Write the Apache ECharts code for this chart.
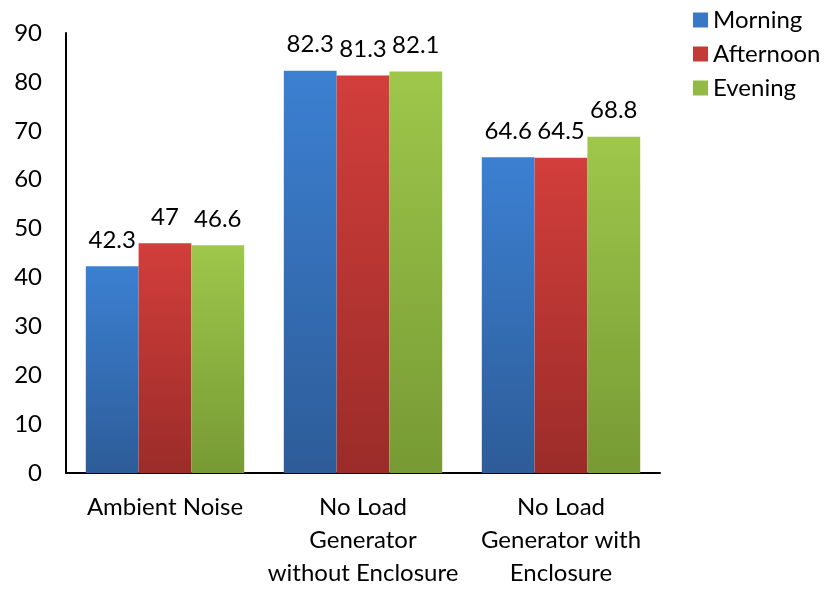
<!DOCTYPE html>
<html><head><meta charset="utf-8">
<script src="https://cdn.jsdelivr.net/npm/echarts@6/dist/echarts.min.js"></script>
<style>html,body{margin:0;padding:0;background:#fff}#c{width:826px;height:590px}</style>
</head><body><div id="c"></div>
<script>
const categories = ["Ambient Noise", "No Load\nGenerator\nwithout Enclosure", "No Load\nGenerator with\nEnclosure"];
const morning = [42.3, 82.3, 64.6];
const afternoon = [47, 81.3, 64.5];
const evening = [46.6, 82.1, 68.8];
const seriesNames = ["Morning", "Afternoon", "Evening"];
const yTicks = {min: 0, max: 90, interval: 10};

const font = "Lato, 'Open Sans', sans-serif";
function grad(top, bottom) {
  return new echarts.graphic.LinearGradient(0, 0, 0, 1, [{offset: 0, color: top}, {offset: 1, color: bottom}]);
}
const colors = [grad('#3C80D2', '#2D5C98'), grad('#D23E3B', '#9B2C29'), grad('#9EC74B', '#779A34')];
const legendColors = ['#3A78C5', '#C43A37', '#93BA45'];
const data = [morning, afternoon, evening];

const chart = echarts.init(document.getElementById('c'));
chart.setOption({
  animation: false,
  textStyle: {fontFamily: font},
  grid: {left: 66, right: 166, top: 33, bottom: 100, containLabel: false},
  legend: {
    orient: 'vertical', left: 688, top: 3, itemWidth: 15, itemHeight: 15, itemGap: 10,
    icon: 'rect',
    textStyle: {fontSize: 24, color: '#000', fontFamily: font},
    data: seriesNames.map((n, i) => ({name: n, itemStyle: {color: legendColors[i]}}))
  },
  xAxis: {
    type: 'category', data: categories,
    axisLine: {lineStyle: {color: '#000', width: 2}},
    axisTick: {show: false},
    axisLabel: {color: '#000', fontSize: 24, lineHeight: 33, margin: 18, interval: 0}
  },
  yAxis: {
    type: 'value', min: yTicks.min, max: yTicks.max, interval: yTicks.interval,
    axisLine: {show: true, lineStyle: {color: '#000', width: 2}},
    axisTick: {show: false},
    splitLine: {show: false},
    axisLabel: {color: '#000', fontSize: 24, margin: 24}
  },
  series: data.map((d, i) => ({
    name: seriesNames[i], type: 'bar', data: d,
    barGap: '0%', barCategoryGap: '20%',
    itemStyle: {color: colors[i]},
    label: {show: true, position: 'top', distance: 14, color: '#000', fontSize: 24, fontFamily: font}
  }))
});
</script></body></html>
